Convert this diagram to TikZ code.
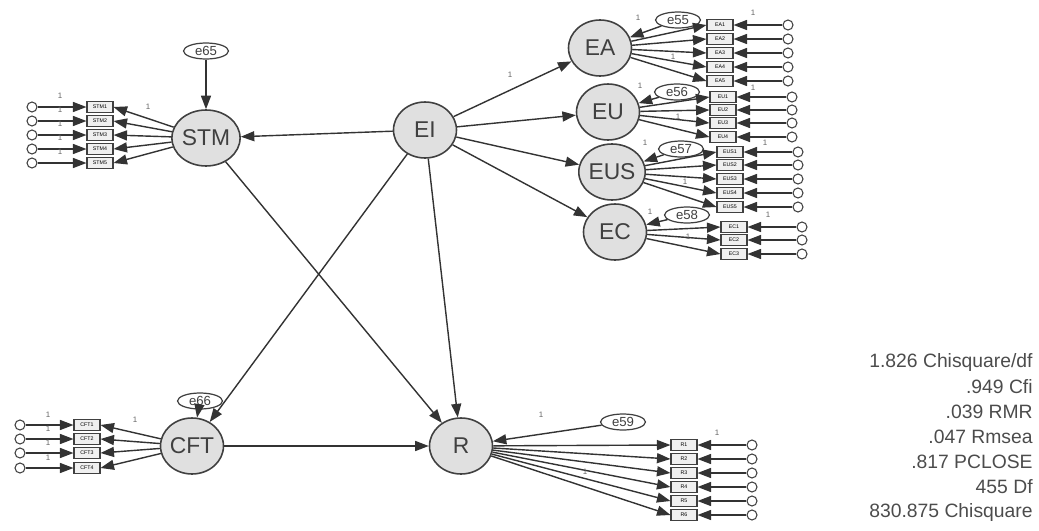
\documentclass[tikz,border=0pt]{standalone}
\usepackage{fontspec}
\setmainfont{Liberation Sans}
\usepackage{tikz}
\usetikzlibrary{arrows.meta,shapes.geometric}

\tikzset{
  latent/.style={ellipse,draw=black!75,fill=black!12,line width=0.9pt,minimum width=1.26cm,minimum height=1.12cm,inner sep=0pt,font=\fontsize{13}{13}\selectfont,text=black!75},
  errvar/.style={ellipse,draw=black!75,fill=white,line width=0.7pt,minimum width=0.9cm,minimum height=0.32cm,inner sep=0pt,font=\fontsize{7.5}{7.5}\selectfont,text=black!75},
  itembox/.style={rectangle,draw=black!75,fill=black!6,line width=0.6pt,minimum width=0.52cm,minimum height=0.23cm,inner sep=0pt,font=\fontsize{3}{3}\selectfont},
  errdot/.style={circle,draw=black!75,line width=0.6pt,minimum size=0.2cm,inner sep=0pt},
  link/.style={draw=black!80,line width=0.8pt,-{Triangle[length=0.27cm,width=0.2cm]}},
  one/.style={font=\fontsize{4.5}{4.5}\selectfont,text=black!60},
  fitline/.style={anchor=east,font=\fontsize{11}{11}\selectfont,text=black!70,inner sep=0pt}
}

\begin{document}
\begin{tikzpicture}[x=0.02cm,y=-0.02cm]
\useasboundingbox (0,0) rectangle (1039,531);

%latent variables
\node[latent] (EI) at (425,130) {EI};
\node[latent] (STM) at (206,138) {STM};
\node[latent] (EA) at (600,48) {EA};
\node[latent] (EU) at (608,112) {EU};
\node[latent] (EUS) at (612,172) {EUS};
\node[latent] (EC) at (615,232) {EC};
\node[latent] (CFT) at (192,446) {CFT};
\node[latent] (R) at (461,446) {R};

%disturbances
\node[errvar] (e65) at (206,51) {e65};
\node[errvar] (e55) at (678,20) {e55};
\node[errvar] (e56) at (677,92) {e56};
\node[errvar] (e57) at (681,149) {e57};
\node[errvar] (e58) at (687,215) {e58};
\node[errvar] (e66) at (200,401) {e66};
\node[errvar] (e59) at (623,422) {e59};
\draw[link] (e65) -- (STM);
\draw[link] (e55) -- (EA);
\draw[link] (e56) -- (EU);
\draw[link] (e57) -- (EUS);
\draw[link] (e58) -- (EC);
\draw[link] (e66) -- (CFT);
\draw[link] (e59) -- (R);

%structural paths
\draw[link] (EI) -- (STM);
\draw[link] (EI) -- (EA);
\draw[link] (EI) -- (EU);
\draw[link] (EI) -- (EUS);
\draw[link] (EI) -- (EC);
\draw[link] (EI) -- (CFT);
\draw[link] (EI) -- (R);
\draw[link] (STM) -- (R);
\draw[link] (CFT) -- (R);

%indicators left side
\foreach \i/\y in {1/107,2/121,3/135,4/149,5/163}{
	\node[itembox] (stm\i) at (100,\y) {STM\i};
	\node[errdot] (dstm\i) at (32,\y) {};
	\draw[link] (dstm\i) -- (stm\i.west);
	\draw[link] (STM) -- (stm\i.east);
	\node[one] at (60,\y-11) {1};
}
\foreach \i/\y in {1/425,2/439,3/453,4/468}{
	\node[itembox] (cft\i) at (87,\y) {CFT\i};
	\node[errdot] (dcft\i) at (20,\y) {};
	\draw[link] (dcft\i) -- (cft\i.west);
	\draw[link] (CFT) -- (cft\i.east);
	\node[one] at (48,\y-10) {1};
}

%indicators right side
\foreach \i/\y in {1/25,2/39,3/53,4/67,5/81}{
	\node[itembox] (ea\i) at (720,\y) {EA\i};
	\node[errdot] (dea\i) at (788,\y) {};
	\draw[link] (dea\i) -- (ea\i.east);
	\draw[link] (EA) -- (ea\i.west);
}
\foreach \i/\y in {1/97,2/110,3/123,4/137}{
	\node[itembox] (eu\i) at (723,\y) {EU\i};
	\node[errdot] (deu\i) at (792,\y) {};
	\draw[link] (deu\i) -- (eu\i.east);
	\draw[link] (EU) -- (eu\i.west);
}
\foreach \i/\y in {1/152,2/165,3/179,4/193,5/207}{
	\node[itembox] (eus\i) at (730,\y) {EUS\i};
	\node[errdot] (deus\i) at (798,\y) {};
	\draw[link] (deus\i) -- (eus\i.east);
	\draw[link] (EUS) -- (eus\i.west);
}
\foreach \i/\y in {1/227,2/240,3/254}{
	\node[itembox] (ec\i) at (734,\y) {EC\i};
	\node[errdot] (dec\i) at (802,\y) {};
	\draw[link] (dec\i) -- (ec\i.east);
	\draw[link] (EC) -- (ec\i.west);
}
\foreach \i/\y in {1/445,2/459,3/473,4/487,5/501,6/515}{
	\node[itembox] (r\i) at (684,\y) {R\i};
	\node[errdot] (dr\i) at (752,\y) {};
	\draw[link] (dr\i) -- (r\i.east);
	\draw[link] (R) -- (r\i.west);
}

%fixed loadings
\node[one] at (148,107) {1};
\node[one] at (135,420) {1};
\node[one] at (510,75) {1};
\node[one] at (638,18) {1};
\node[one] at (673,57) {1};
\node[one] at (753,13) {1};
\node[one] at (640,86) {1};
\node[one] at (678,117) {1};
\node[one] at (753,88) {1};
\node[one] at (645,143) {1};
\node[one] at (685,182) {1};
\node[one] at (765,143) {1};
\node[one] at (650,212) {1};
\node[one] at (688,237) {1};
\node[one] at (768,215) {1};
\node[one] at (541,415) {1};
\node[one] at (585,472) {1};
\node[one] at (717,433) {1};

%fit indices
\foreach \t [count=\k] in {{1.826 Chisquare/df},{.949 Cfi},{.039 RMR},{.047 Rmsea},{.817 PCLOSE},{455 Df},{830.875 Chisquare}}{
	\node[fitline] (fit\k) at (1033,337+25*\k) {\t};
}
\end{tikzpicture}
\end{document}
